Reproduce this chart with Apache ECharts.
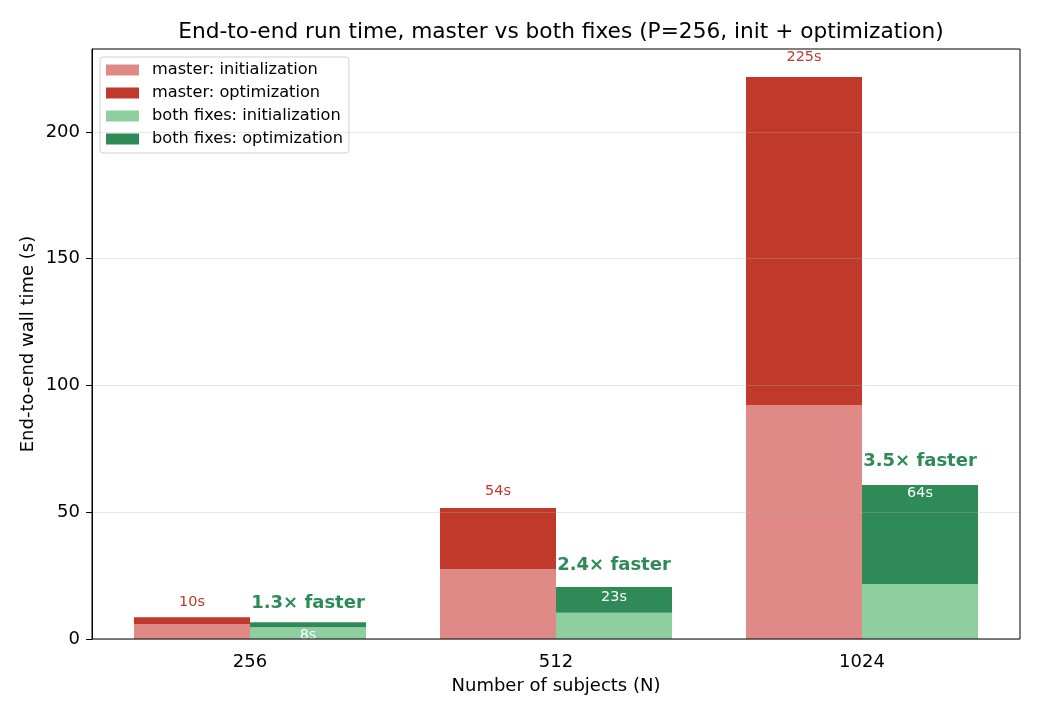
<!DOCTYPE html>
<html>
<head>
<meta charset="utf-8">
<script src="https://cdn.jsdelivr.net/npm/echarts@6/dist/echarts.min.js"></script>
<style>
  html, body { margin: 0; padding: 0; background: #fff; }
  #main { width: 1040px; height: 715px; }
</style>
</head>
<body>
<div id="main"></div>
<script>
// subjects on the x axis
var categories = ['256', '512', '1024'];

// stacked bar parts (seconds)
var masterInit = [5.9, 27.6, 92.3];
var masterOpt = [2.7, 24.1, 129.4];
var fixesInit = [4.6, 10.4, 21.7];
var fixesOpt = [2.0, 10.1, 39.0];

// annotated totals and speedups
var masterTotalLabels = [10, 54, 225];
var fixesTotalLabels = [8, 23, 64];
var speedups = [1.3, 2.4, 3.5];

var yTicks = [0, 50, 100, 150, 200];
var Y_MAX = 232.7;

var RED_LIGHT = '#e08a87', RED = '#c0392b';
var GREEN_LIGHT = '#8fce9f', GREEN = '#2e8b57';
var FONT = 'DejaVu Sans';

var chart = echarts.init(document.getElementById('main'));

function barSeries(name, stack, data, color) {
    return {
        name: name,
        type: 'bar',
        xAxisIndex: 1,
        yAxisIndex: 1,
        stack: stack,
        data: data,
        barWidth: 116,
        barGap: '0%',
        itemStyle: {color: color},
        emphasis: {disabled: true}
    };
}

function labelSeries(values, offset, color, size, weight, fmt) {
    return {
        type: 'scatter',
        xAxisIndex: 1,
        yAxisIndex: 1,
        data: values,
        symbolSize: 1,
        itemStyle: {color: 'transparent', opacity: 1},
        silent: true,
        z: 20,
        label: {
            show: true,
            position: 'inside',
            offset: offset,
            color: color,
            opacity: 1,
            fontSize: size,
            fontWeight: weight,
            fontFamily: FONT,
            formatter: function (p) { return fmt(p.dataIndex); }
        }
    };
}

var option = {
    animation: false,
    backgroundColor: '#fff',
    title: {
        text: 'End-to-end run time, master vs both fixes (P=256, init + optimization)',
        left: 556,
        top: 16,
        textAlign: 'center',
        textStyle: {fontFamily: FONT, fontSize: 21.7, fontWeight: 'normal', color: '#000'}
    },
    legend: {
        data: ['master: initialization', 'master: optimization', 'both fixes: initialization', 'both fixes: optimization'],
        orient: 'vertical',
        left: 100,
        top: 57,
        itemWidth: 33,
        itemHeight: 11,
        itemGap: 5,
        padding: [4, 6, 5, 6],
        borderColor: '#d0d0d0',
        borderWidth: 1,
        borderRadius: 3,
        backgroundColor: 'rgba(255,255,255,0.8)',
        icon: 'rect',
        textStyle: {fontFamily: FONT, fontSize: 16.2, lineHeight: 18, color: '#000', padding: [0, 0, 0, 8]}
    },
    grid: [
        // frame of the plot
        {left: 92, right: 20, top: 49, bottom: 76, show: true, borderColor: '#000', borderWidth: 1, z: 30},
        // band for the bar groups
        {left: 97, right: 25, top: 49, bottom: 76}
    ],
    xAxis: [
        {
            type: 'value', gridIndex: 0, min: 0, max: 1,
            axisLine: {show: false}, axisTick: {show: false}, axisLabel: {show: false}, splitLine: {show: false}
        },
        {
            type: 'category',
            gridIndex: 1,
            data: categories,
            name: 'Number of subjects (N)',
            nameLocation: 'middle',
            nameGap: 38,
            nameTextStyle: {fontFamily: FONT, fontSize: 18, color: '#000'},
            axisLine: {show: false},
            axisTick: {alignWithLabel: true, length: 6, lineStyle: {color: '#000'}},
            axisLabel: {fontFamily: FONT, fontSize: 18, color: '#000', margin: 14},
            splitLine: {show: false}
        }
    ],
    yAxis: [
        {
            type: 'value',
            gridIndex: 0,
            min: 0,
            max: Y_MAX,
            interval: 50,
            z: 10,
            name: 'End-to-end wall time (s)',
            nameLocation: 'middle',
            nameGap: 55,
            nameMoveOverlap: false,
            nameTextStyle: {fontFamily: FONT, fontSize: 18, color: '#000'},
            axisLine: {show: true, lineStyle: {color: '#000', width: 1}},
            axisTick: {show: true, length: 6, lineStyle: {color: '#000'}, customValues: yTicks},
            axisLabel: {fontFamily: FONT, fontSize: 18, color: '#000', margin: 12, customValues: yTicks},
            splitLine: {show: true, lineStyle: {color: 'rgba(176,176,176,0.3)', width: 1}}
        },
        {
            type: 'value', gridIndex: 1, min: 0, max: Y_MAX,
            axisLine: {show: false}, axisTick: {show: false}, axisLabel: {show: false}, splitLine: {show: false}
        }
    ],
    series: [
        barSeries('master: initialization', 'master', masterInit, RED_LIGHT),
        barSeries('master: optimization', 'master', masterOpt, RED),
        barSeries('both fixes: initialization', 'fixes', fixesInit, GREEN_LIGHT),
        barSeries('both fixes: optimization', 'fixes', fixesOpt, GREEN),
        labelSeries(masterTotalLabels, [-58, -11], RED, 14.4, 'normal',
            function (i) { return masterTotalLabels[i] + 's'; }),
        labelSeries(fixesTotalLabels, [58, 17], '#fff', 14.4, 'normal',
            function (i) { return fixesTotalLabels[i] + 's'; }),
        labelSeries(fixesTotalLabels, [58, -15], GREEN, 18, 'bold',
            function (i) { return speedups[i].toFixed(1) + '\u00d7 faster'; })
    ]
};

chart.setOption(option);
</script>
</body>
</html>
